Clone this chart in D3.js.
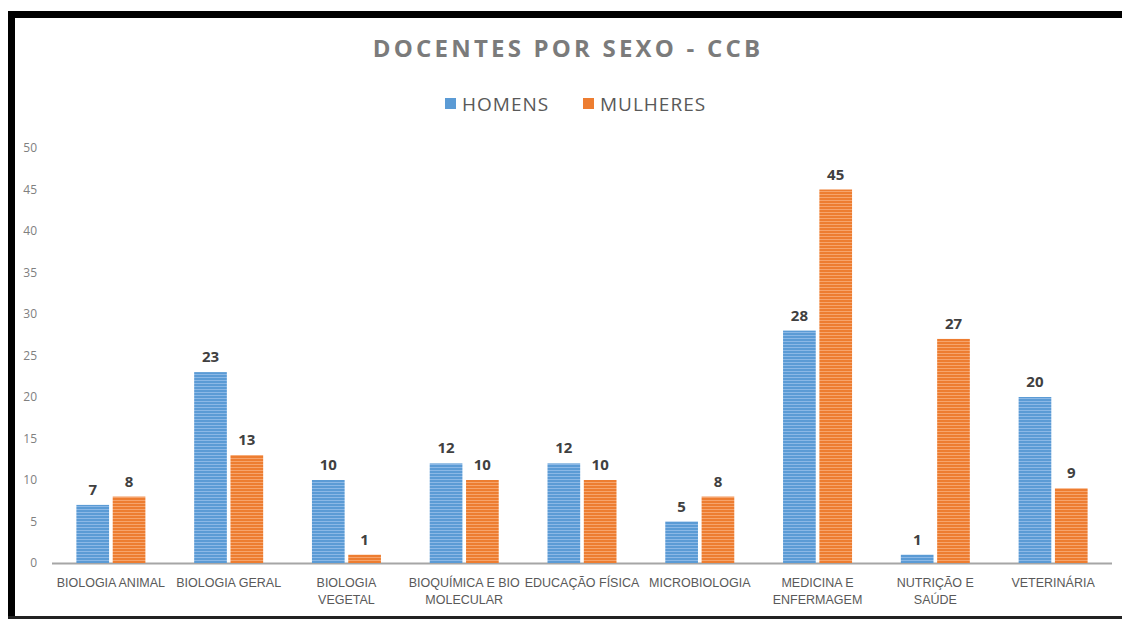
<!DOCTYPE html>
<html>
<head>
<meta charset="utf-8">
<script src="https://cdn.jsdelivr.net/npm/d3@7"></script>
<style>
  body { margin: 0; background: #fff; }
  svg { display: block; }
</style>
</head>
<body>
<svg width="1122" height="619"></svg>
<script>
// data
var categories = [
    ["BIOLOGIA ANIMAL"],
    ["BIOLOGIA GERAL"],
    ["BIOLOGIA", "VEGETAL"],
    ["BIOQUÍMICA E BIO", "MOLECULAR"],
    ["EDUCAÇÃO FÍSICA"],
    ["MICROBIOLOGIA"],
    ["MEDICINA E", "ENFERMAGEM"],
    ["NUTRIÇÃO E", "SAÚDE"],
    ["VETERINÁRIA"]
];
var homens   = [7, 23, 10, 12, 12, 5, 28, 1, 20];
var mulheres = [8, 13, 1, 10, 10, 8, 45, 27, 9];
var seriesNames = ["HOMENS", "MULHERES"];
var colors = ["#5b9bd5", "#ed7d31"];
var stripes = ["#8bb8e6", "#f6a46c"];
var yTicks = [0, 5, 10, 15, 20, 25, 30, 35, 40, 45, 50];

var svg = d3.select("svg");
var plotLeft = 52, plotRight = 1112, plotTop = 148, plotBottom = 563;

// stripe patterns for the bars
var defs = svg.append("defs");
colors.forEach(function(c, i) {
    var p = defs.append("pattern")
        .attr("id", "pat" + i)
        .attr("patternUnits", "userSpaceOnUse")
        .attr("width", 4).attr("height", 3);
    p.append("rect").attr("width", 4).attr("height", 3).attr("fill", c);
    p.append("rect").attr("y", 2).attr("width", 4).attr("height", 1).attr("fill", stripes[i]);
});

// frame
svg.append("rect").attr("x", 8).attr("y", 11).attr("width", 1130).attr("height", 7).attr("fill", "#000");
svg.append("rect").attr("x", 8).attr("y", 11).attr("width", 7).attr("height", 608).attr("fill", "#000");
svg.append("rect").attr("x", 8).attr("y", 616).attr("width", 1130).attr("height", 3).attr("fill", "#222");

svg.append("text")
    .attr("x", 568)
    .attr("y", 57)
    .attr("text-anchor", "middle")
    .style("font", "700 24px 'Open Sans'")
    .style("letter-spacing", "3.2px")
    .attr("fill", "#7b7b7b")
    .text("DOCENTES POR SEXO - CCB");

// legend
var legendX = [445, 583];
seriesNames.forEach(function(name, i) {
    svg.append("rect")
        .attr("x", legendX[i]).attr("y", 98)
        .attr("width", 11).attr("height", 11)
        .attr("fill", colors[i]);
    svg.append("text")
        .attr("x", legendX[i] + 17).attr("y", 111)
        .style("font", "19px 'Open Sans'")
        .style("letter-spacing", "1px")
        .attr("fill", "#595959")
        .text(name);
});

var xScale = d3.scaleBand()
    .domain(d3.range(categories.length))
    .range([plotLeft, plotRight])
    .padding(0);
var yScale = d3.scaleLinear().domain([0, 50]).range([plotBottom, plotTop]);

var sub = d3.scaleBand()
    .domain([0, 1])
    .range([xScale.bandwidth() / 2 - 34.5, xScale.bandwidth() / 2 + 34.5])
    .paddingInner(0.1);

// y axis labels
var yAxis = svg.append("g")
    .attr("transform", "translate(37,0)")
    .call(d3.axisLeft(yScale).tickValues(yTicks).tickSize(0).tickPadding(0));
yAxis.select(".domain").remove();
yAxis.selectAll("text")
    .style("font", "12px 'Liberation Sans Narrow', 'Open Sans'")
    .attr("fill", "#808080");

// baseline
svg.append("line")
    .attr("x1", plotLeft).attr("x2", plotRight)
    .attr("y1", yScale(0) + 0.5).attr("y2", yScale(0) + 0.5)
    .attr("stroke", "#a6a6a6").attr("stroke-width", 2);

var rows = categories.map(function(c, i) {
    return { i: i, values: [homens[i], mulheres[i]] };
});

var groups = svg.selectAll(".grp")
    .data(rows)
    .enter().append("g")
    .attr("class", "grp")
    .attr("transform", function(d) { return "translate(" + xScale(d.i) + ",0)"; });

groups.selectAll("rect")
    .data(function(d) { return d.values.map(function(v, k) { return { k: k, v: v }; }); })
    .enter().append("rect")
    .attr("x", function(d) { return sub(d.k); })
    .attr("y", function(d) { return yScale(d.v); })
    .attr("width", sub.bandwidth())
    .attr("height", function(d) { return yScale(0) - yScale(d.v); })
    .attr("fill", function(d) { return "url(#pat" + d.k + ")"; });

groups.selectAll(".lbl")
    .data(function(d) { return d.values.map(function(v, k) { return { k: k, v: v }; }); })
    .enter().append("text")
    .attr("class", "lbl")
    .attr("x", function(d) { return sub(d.k) + sub.bandwidth() / 2; })
    .attr("y", function(d) { return yScale(d.v) - 10; })
    .attr("text-anchor", "middle")
    .style("font", "700 15px 'Open Sans'")
    .attr("fill", "#404040")
    .text(function(d) { return d.v; });

// category labels
groups.append("text")
    .attr("text-anchor", "middle")
    .style("font", "12.5px 'Liberation Sans Narrow', 'Liberation Sans'")
    .attr("fill", "#595959")
    .selectAll("tspan")
    .data(function(d) { return categories[d.i]; })
    .enter().append("tspan")
    .attr("x", xScale.bandwidth() / 2)
    .attr("y", function(d, j) { return 587 + j * 17; })
    .text(function(d) { return d; });
</script>
</body>
</html>
